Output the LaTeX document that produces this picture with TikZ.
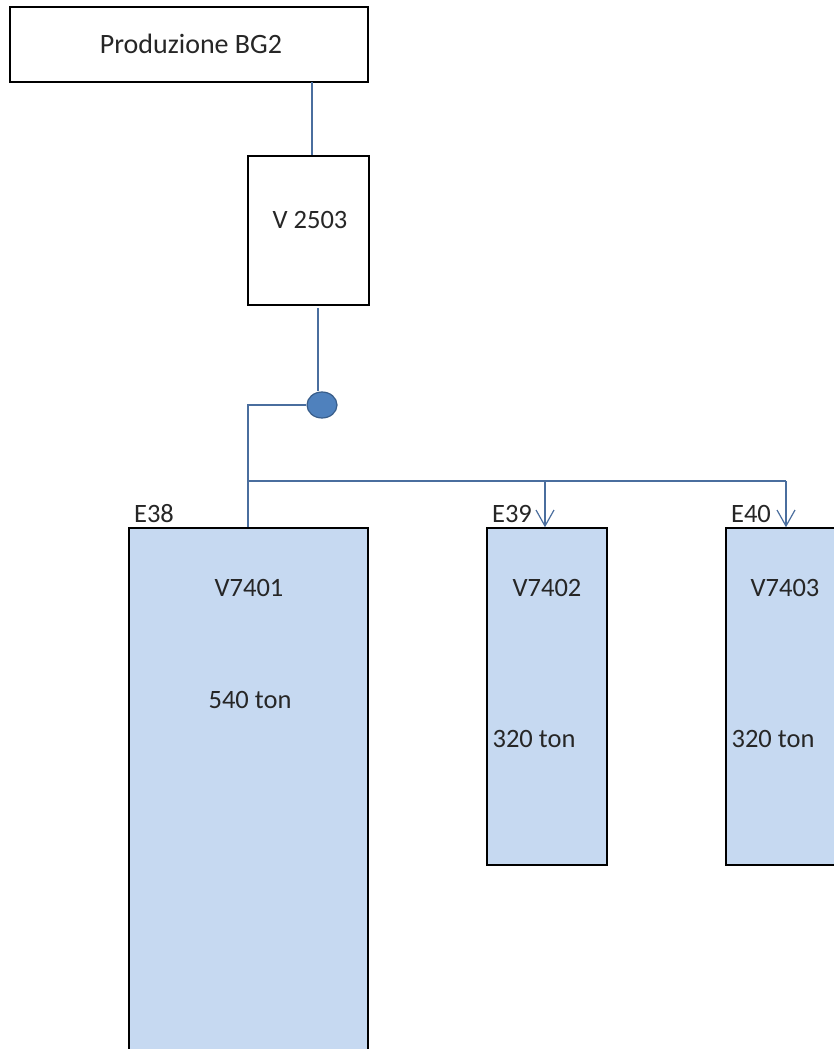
\documentclass[tikz,border=0pt]{standalone}
\usepackage{fontspec}
\setmainfont{Carlito}
\usetikzlibrary{arrows.meta,shapes.geometric}
\definecolor{tankfill}{HTML}{C6D9F1}
\definecolor{conn}{HTML}{4A6E9E}
\definecolor{valvefill}{HTML}{4F81BD}
\definecolor{valveline}{HTML}{385D8A}
\definecolor{txt}{HTML}{262626}
\tikzset{
  box/.style={draw=black, line width=1.5pt, fill=white, inner sep=0pt},
  tank/.style={draw=black, line width=1.5pt, fill=tankfill, inner sep=0pt},
  lbl/.style={font=\fontsize{26.5pt}{30pt}\selectfont, text=txt, inner sep=0pt},
  biglbl/.style={lbl, font=\fontsize{28pt}{32pt}\selectfont},
  pipe/.style={draw=conn, line width=1.2pt},
  arr/.style={pipe, -{Straight Barb[length=16pt,width=18pt,line width=1.2pt]}},
}
\begin{document}
\begin{tikzpicture}[x=1pt,y=1pt]
\useasboundingbox (0,0) rectangle (834,-1049);
\clip (0,0) rectangle (834,-1049);
\fill[white] (0,0) rectangle (834,-1049);
% boxes
\node[box, minimum width=358pt, minimum height=75pt] (prod) at (189,-44.5) {};
\node[biglbl] (prodt) at (191,-44) {Produzione BG2};
\node[box, minimum width=121pt, minimum height=149pt] (v2503) at (308.5,-230.5) {};
\node[lbl] (v2503t) at (310,-220) {V 2503};
\node[tank, minimum width=239pt, minimum height=540pt] (t1) at (248.5,-798) {};
\node[tank, minimum width=120pt, minimum height=337pt] (t2) at (547,-696.5) {};
\node[tank, minimum width=120pt, minimum height=337pt] (t3) at (786,-696.5) {};
% tank texts
\node[lbl] (e38) at (154,-514) {E38};
\node[lbl] (e39) at (512,-514) {E39};
\node[lbl] (e40) at (751,-514) {E40};
\node[lbl] (t1a) at (249,-588) {V7401};
\node[lbl] (t1b) at (250,-700) {540 ton};
\node[lbl] (t2a) at (547,-588) {V7402};
\node[lbl] (t2b) at (534,-739) {320 ton};
\node[lbl] (t3a) at (785,-588) {V7403};
\node[lbl] (t3b) at (773,-739) {320 ton};
% valve
\node[ellipse, draw=valveline, line width=1.2pt, fill=valvefill, minimum width=30pt, minimum height=26pt, inner sep=0pt] (valve) at (322,-405) {};
% connectors
\coordinate (j1) at (312,-82);
\coordinate (j2) at (318,-308);
\coordinate (corner) at (248,-405);
\coordinate (split) at (248,-481);
\coordinate (b2) at (545,-481);
\coordinate (b3) at (786,-481);
\draw[pipe] (j1) -- (v2503.north -| j1);
\draw[pipe] (j2) -- (valve.north -| j2);
\draw[pipe] (valve.west) -- (corner) -- (t1.north -| corner);
\draw[pipe] (split) -- (b3);
\draw[arr] (b2) -- (t2.north -| b2);
\draw[arr] (b3) -- (t3.north -| b3);
\end{tikzpicture}
\end{document}
